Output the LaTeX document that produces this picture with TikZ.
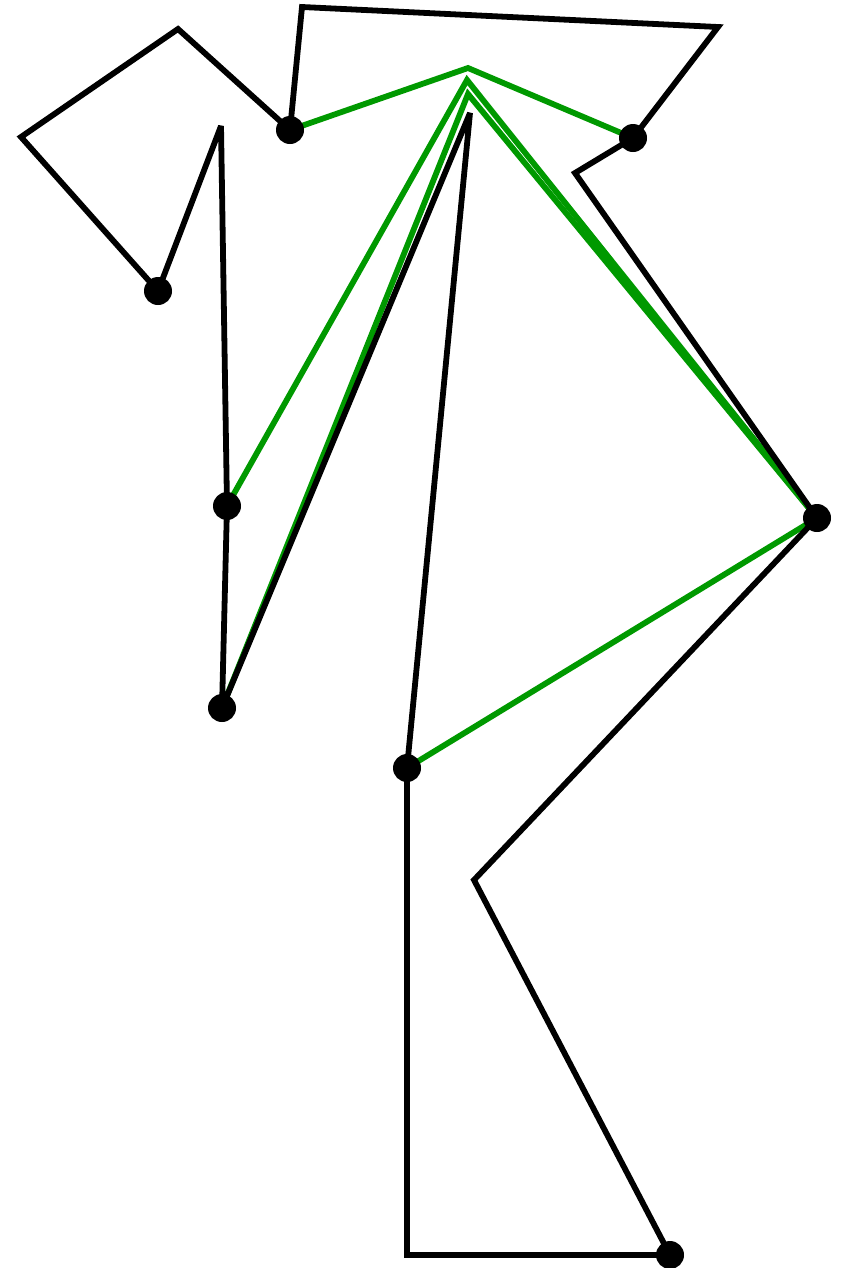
\documentclass[tikz,border=0pt]{standalone}
\usetikzlibrary{calc}

\definecolor{legGreen}{RGB}{0,153,0}

\begin{document}
\begin{tikzpicture}[x=0.02cm, y=-0.02cm, line width=3.3pt, miter limit=4]
  \useasboundingbox (0,0) rectangle (845,1268);
  % outline points
  \coordinate (A) at (670,1255);
  \coordinate (B) at (407,1255);
  \coordinate (C) at (407,768);
  \coordinate (D) at (470,113);
  \coordinate (E) at (222,708);
  \coordinate (F) at (227,506);
  \coordinate (G) at (221,126);
  \coordinate (H) at (158,291);
  \coordinate (I) at (21,137);
  \coordinate (J) at (178,29);
  \coordinate (K) at (290,130);
  \coordinate (L) at (302,7);
  \coordinate (M) at (718,27);
  \coordinate (N) at (633,138);
  \coordinate (O) at (575,173);
  \coordinate (P) at (817,518);
  \coordinate (Q) at (474,880);
  % apexes of the green paths
  \coordinate (T1) at (468,68);
  \coordinate (T2) at (467,80);
  \coordinate (T3) at (468,94);
  % green paths
  \draw[legGreen] (K)--(T1)--(N);
  \draw[legGreen] (F)--(T2)--(P);
  \draw[legGreen] (E)--(T3)--(P);
  \draw[legGreen] (C)--(P);
  % black outline
  \draw (A)--(B)--(C)--(D)--(E)--(F)--(G)--(H)--(I)--(J)--(K)--(L)--(M)--(N)--(O)--(P)--(Q)--cycle;
  % joints
  \foreach \p in {A,C,E,F,H,K,N,P}
    \fill (\p) circle (14);
\end{tikzpicture}
\end{document}
